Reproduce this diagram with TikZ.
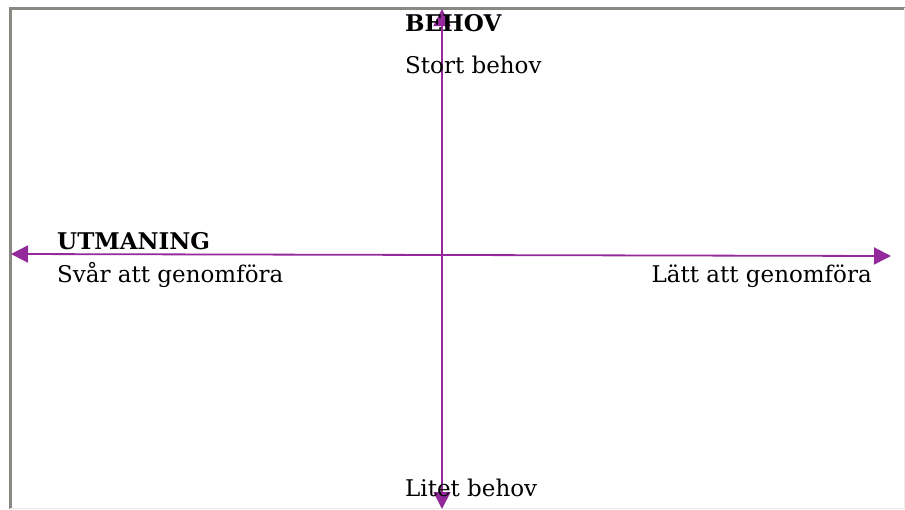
\documentclass[tikz,border=0pt]{standalone}
\usepackage{fontspec}
\setmainfont{DejaVu Serif}
\usepackage{xcolor}
\usetikzlibrary{arrows.meta}
\definecolor{axelfarg}{RGB}{148,41,155}
\definecolor{ramfarg}{RGB}{135,137,130}

\begin{document}
\begin{tikzpicture}[
    x=1pt, y=-1pt,
    font=\fontsize{23}{27}\selectfont,
    etikett/.style={anchor=base west, inner sep=0pt},
    rubrik/.style={etikett, font=\fontsize{23}{27}\selectfont\bfseries},
    axel/.style={axelfarg, line width=1.8pt,
                 {Triangle[length=17pt, width=17pt]}-{Triangle[length=17pt, width=17pt]}}
  ]
    \useasboundingbox (0,0) rectangle (905,509);
    % ram
    \draw[ramfarg, line width=3pt] (10,509) -- (10,8) -- (905,8);
    \draw[black!8, line width=1pt] (904,8) -- (904,508) -- (10,508);
    % axlar
    \coordinate (upp) at (442,9);
    \coordinate (ner) at (442,509);
    \coordinate (vanster) at (11,254);
    \coordinate (hoger) at (891,256);
    \draw[axel] (ner) -- (upp);
    \draw[axel] (vanster) -- (hoger);
    % texter
    \node[rubrik] (behov) at (405,31) {BEHOV};
    \node[etikett] (stort) at (405,73) {Stort behov};
    \node[rubrik] (utmaning) at (57,249) {UTMANING};
    \node[etikett] (svar) at (57,282) {Svår att genomföra};
    \node[etikett, anchor=base east] (latt) at (872,282) {Lätt att genomföra};
    \node[etikett] (litet) at (405,496) {Litet behov};
  \end{tikzpicture}
\end{document}
